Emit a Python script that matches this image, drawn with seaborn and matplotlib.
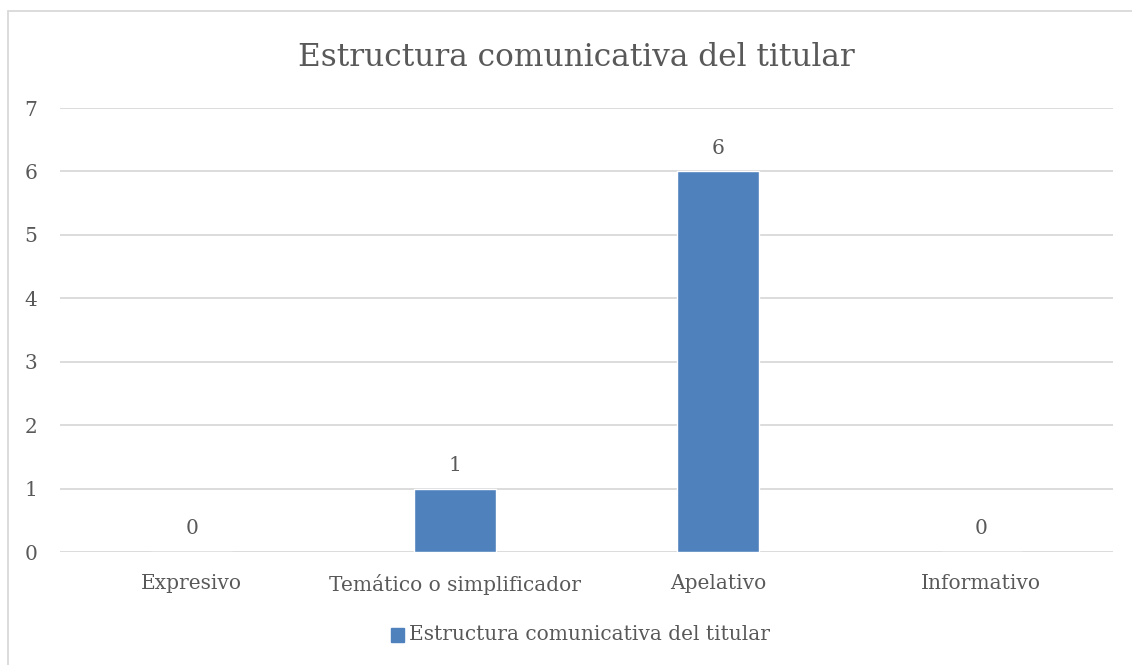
import matplotlib
matplotlib.use("Agg")
import matplotlib.pyplot as plt
from matplotlib.patches import Rectangle
import seaborn as sns
import pandas as pd

categories = ["Expresivo", "Temático o simplificador", "Apelativo", "Informativo"]
values = [0, 1, 6, 0]
series_name = "Estructura comunicativa del titular"
title = "Estructura comunicativa del titular"

sns.set_theme(style="white")
plt.rcParams["font.family"] = ["DejaVu Serif", "Liberation Serif"]
text_color = "#595959"
bar_color = "#4F81BD"

df = pd.DataFrame({"categoria": categories, "valor": values, "serie": series_name})

fig = plt.figure(figsize=(11.32, 6.65), dpi=100)
ax = fig.add_axes([60 / 1132, 1 - 552 / 665, 1053 / 1132, 444 / 665])

sns.barplot(data=df, x="categoria", y="valor", hue="serie", palette=[bar_color],
            width=0.31, ax=ax, legend=False, saturation=1)

ax.set_ylim(0, 7)
ax.set_yticks(range(0, 8))
ax.yaxis.grid(True, color="#d9d9d9", linewidth=1.3)
ax.set_axisbelow(True)
for s in ax.spines.values():
    s.set_visible(False)
ax.tick_params(axis="both", length=0, labelsize=14.5, colors=text_color)
ax.tick_params(axis="y", pad=16.5)
ax.tick_params(axis="x", pad=16)
ax.set_xlabel("")
ax.set_ylabel("")

for i, v in enumerate(values):
    ax.annotate(str(v), (i, v), xytext=(0, 10), textcoords="offset points",
                ha="center", va="bottom", fontsize=14.5, color=text_color)

fig.text(576 / 1132, 1 - 57 / 665, title, ha="center", va="center",
         fontsize=22.5, color=text_color)

# legend
fig.patches.append(Rectangle((391 / 1132, 1 - 642 / 665), 13 / 1132, 14 / 665,
                             transform=fig.transFigure, color=bar_color))
fig.text(409 / 1132, 1 - 634 / 665, series_name, ha="left", va="center",
         fontsize=14.5, color=text_color)

# chart border
fig.patches.append(Rectangle((8 / 1132, -0.01), 1.1, 1 - 11 / 665 + 0.01,
                             transform=fig.transFigure, fill=False,
                             edgecolor="#d9d9d9", linewidth=1.3))

fig.savefig("out.png", dpi=100)
